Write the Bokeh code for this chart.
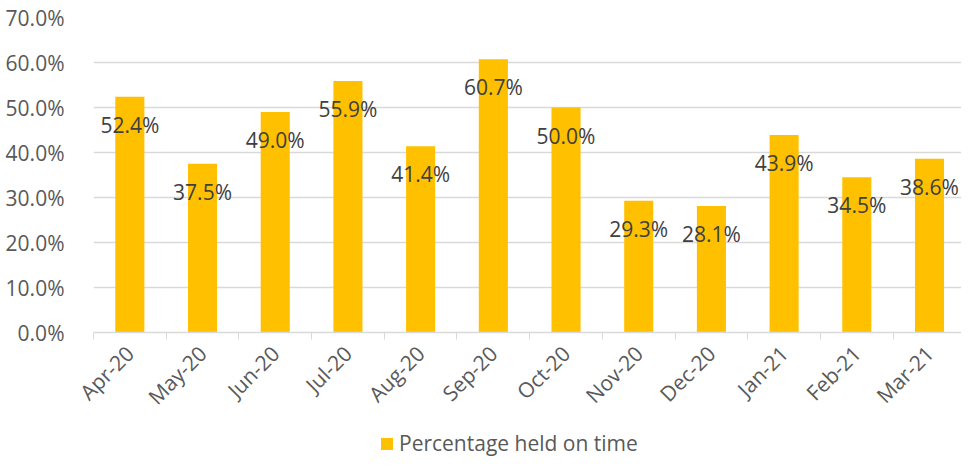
import math
from bokeh.plotting import figure
from bokeh.layouts import column
from bokeh.models import (ColumnDataSource, Range1d, FixedTicker, NumeralTickFormatter,
                          Legend, LegendItem)
from bokeh.core.properties import value
from bokeh.embed import file_html
from bokeh.resources import INLINE

categories = ["Apr-20", "May-20", "Jun-20", "Jul-20", "Aug-20", "Sep-20",
              "Oct-20", "Nov-20", "Dec-20", "Jan-21", "Feb-21", "Mar-21"]
values = [0.524, 0.375, 0.490, 0.559, 0.414, 0.607,
          0.500, 0.293, 0.281, 0.439, 0.345, 0.386]
series_name = "Percentage held on time"
y_ticks = [0.0, 0.1, 0.2, 0.3, 0.4, 0.5, 0.6, 0.7]

FONT = "Open Sans"
BAR = "#FFC000"
GRID = "#D9D9D9"
AXIS_TXT = "#595959"
LBL_TXT = "#404040"

idx = list(range(len(categories)))
src = ColumnDataSource(dict(
    x=idx, top=values,
    label=[f"{v*100:.1f}%" for v in values],
))

# the reference plot area runs off the right edge, so the last slot is partly hidden
X_END = 11.44

p = figure(width=961, height=424, output_backend="svg", toolbar_location=None,
           x_range=Range1d(-0.5, X_END), y_range=Range1d(0, 0.7),
           min_border_left=93, min_border_right=0, min_border_top=17, min_border_bottom=92)
p.outline_line_color = None
p.background_fill_color = "white"

bars = p.vbar(x="x", top="top", width=0.4, source=src, fill_color=BAR, line_color=None)
p.text(x="x", y="top", text="label", source=src, y_offset=28,
       text_align="center", text_baseline="middle",
       text_font=value(FONT), text_font_size="21px", text_color=LBL_TXT)

# x axis
xa = p.xaxis[0]
xa.ticker = FixedTicker(ticks=idx, minor_ticks=[i - 0.5 for i in range(len(categories) + 1)])
xa.major_label_overrides = {i: c for i, c in enumerate(categories)}
xa.major_tick_line_color = None
xa.major_tick_out = 0
xa.major_tick_in = 0
xa.minor_tick_line_color = GRID
xa.minor_tick_out = 7
xa.minor_tick_in = 0
xa.axis_line_color = GRID
xa.axis_line_width = 1.5
xa.major_label_orientation = math.pi / 4
xa.major_label_standoff = 10
xa.major_label_text_font = FONT
xa.major_label_text_font_size = "21px"
xa.major_label_text_color = AXIS_TXT

# y axis
ya = p.yaxis[0]
ya.ticker = FixedTicker(ticks=y_ticks)
ya.formatter = NumeralTickFormatter(format="0.0%")
ya.axis_line_color = None
ya.major_tick_line_color = None
ya.minor_tick_line_color = None
ya.major_label_standoff = 23
ya.major_label_text_font = FONT
ya.major_label_text_font_size = "21px"
ya.major_label_text_color = AXIS_TXT

p.xgrid.grid_line_color = None
p.ygrid.grid_line_color = GRID
p.ygrid.grid_line_width = 1.5

# legend strip below the chart (series drawn off-range so only its legend shows)
lg = figure(width=961, height=33, output_backend="svg", toolbar_location=None,
            x_range=Range1d(-0.5, X_END), y_range=Range1d(1, 2),
            min_border=0, x_axis_location=None, y_axis_location=None)
lg.grid.visible = False
lg.outline_line_color = None
proxy = lg.vbar(x="x", top="top", width=0.4, source=src, fill_color=BAR, line_color=None)
legend = Legend(items=[LegendItem(label=series_name, renderers=[proxy])],
                location=(286, 0), orientation="horizontal",
                padding=0, margin=0, spacing=0, label_standoff=5,
                glyph_width=15, glyph_height=15,
                background_fill_alpha=0, border_line_color=None,
                label_text_font=FONT, label_text_font_size="21px",
                label_text_color=AXIS_TXT)
lg.add_layout(legend, "center")

open("out.html", "w").write(file_html(column(p, lg, spacing=0), INLINE))
